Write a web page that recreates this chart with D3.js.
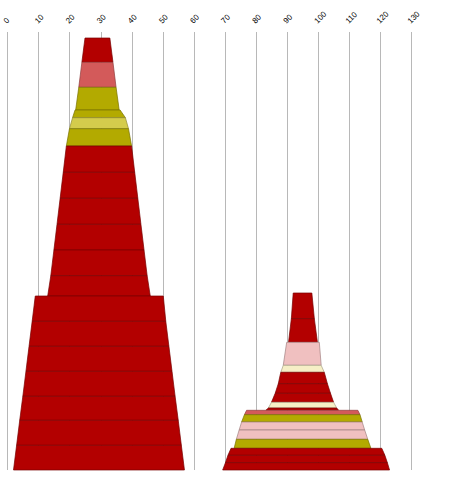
<!DOCTYPE html>
<html><head><meta charset="utf-8">
<script src="https://cdn.jsdelivr.net/npm/d3@7"></script>
<style>body{margin:0;background:#fff}svg{display:block}</style>
</head><body>
<svg id="c" width="452" height="477"></svg>
<script>
// tick labels along the top axis
const tickValues = [0,10,20,30,40,50,60,70,80,90,100,110,120,130];

// fill kinds
const palette = {
  red:   "#b30000",
  rose:  "#d35a5a",
  olive: "#b3aa00",
  lime:  "#d4cc4c",
  pink:  "#f0c0c0",
  cream: "#f6efc6"
};

// column A layers: depth top, depth bottom, [left,right] at top, [left,right] at bottom, kind
const columnA = [
  [8,     32.3,  [25,33],   [24,34],   "red"],
  [32.3,  57.3,  [24,34],   [23,35],   "rose"],
  [57.3,  80,    [23,35],   [22,36],   "olive"],
  [80,    87.7,  [21.8,36.3],[21,38],  "olive"],
  [87.7,  98.7,  [21,38],   [20,39],   "lime"],
  [98.7,  116,   [20,39],   [19,40],   "olive"],
  [116,   142.3, [19,40],   [18,41],   "red"],
  [142.3, 168.3, [18,41],   [17,42],   "red"],
  [168.3, 194.3, [17,42],   [16,43],   "red"],
  [194.3, 220,   [16,43],   [15,44],   "red"],
  [220,   245.7, [15,44],   [14,45],   "red"],
  [245.7, 266,   [14,45],   [13,46],   "red"],
  [266,   291.3, [9,50.2],  [8,51],    "red"],
  [291.3, 316.3, [8,51],    [7,52],    "red"],
  [316.3, 341.3, [7,52],    [6,53],    "red"],
  [341.3, 366.3, [6,53],    [5,54],    "red"],
  [366.3, 390.3, [5,54],    [4,55],    "red"],
  [390.3, 415.3, [4,55],    [3,56],    "red"],
  [415.3, 440,   [3,56],    [2,57],    "red"]
];

// column B layers
const columnB = [
  [263,   288.7, [92,98],     [91.4,98.8],  "red"],
  [288.7, 312.3, [91.4,98.8], [90.5,99.8],  "red"],
  [312.3, 335.3, [89.9,100.4],[88.8,101],   "pink"],
  [335.3, 342.3, [88.8,101],  [88,102],     "cream"],
  [342.3, 353.7, [88,102],    [87.2,103],   "red"],
  [353.7, 363.3, [87.2,103],  [86.2,104],   "red"],
  [363.3, 372.3, [86.2,104],  [85,105],     "red"],
  [372.3, 378,   [85,105],    [84,106],     "cream"],
  [378,   380.3, [84,106],    [83.2,106.6], "red"],
  [380.3, 384.7, [77,112.8],  [76.3,113.5], "rose"],
  [384.7, 392,   [76.3,113.5],[75.4,114.2], "olive"],
  [392,   400,   [75.4,114.2],[74.6,115],   "pink"],
  [400,   409.3, [74.6,115],  [73.7,116],   "pink"],
  [409.3, 418.3, [73.7,116],  [73,117],     "olive"],
  [418.3, 425.3, [72,120.5],  [71,121.5],   "red"],
  [425.3, 432.7, [71,121.5],  [70.2,122.3], "red"],
  [432.7, 440,   [70.2,122.3],[69.3,123],   "red"]
];

const svg = d3.select("#c");
const x = d3.scaleLinear().domain([0,130]).range([7.3,411.3]);
const y = d3.scaleLinear().domain([0,440]).range([30,470]);

// grid + labels
const axisTopY = y(2);
const axis = d3.axisTop(x)
  .tickValues(tickValues)
  .tickSize(-(y(440) - axisTopY))
  .tickFormat(d3.format("d"));

const ag = svg.append("g")
  .attr("transform", `translate(0,${axisTopY})`)
  .call(axis);
ag.select(".domain").remove();
ag.selectAll(".tick line")
  .attr("stroke", "#b8b8b8")
  .attr("stroke-width", 1)
  .attr("shape-rendering", "crispEdges");
ag.selectAll(".tick text")
  .attr("x", 0).attr("y", 0).attr("dy", 0)
  .attr("text-anchor", "start")
  .attr("transform", "translate(-1,-8) rotate(-45)")
  .attr("fill", "#000")
  .style("font-family", "'Liberation Sans', Arial, sans-serif")
  .style("font-size", "8px");

const line = d3.line();
function layerPath(d) {
  const [t, b, tp, bt] = d;
  return line([
    [x(tp[0]), y(t)], [x(tp[1]), y(t)],
    [x(bt[1]), y(b)], [x(bt[0]), y(b)]
  ]) + "Z";
}

[columnA, columnB].forEach(col => {
  svg.append("g").selectAll("path")
    .data(col)
    .join("path")
    .attr("d", layerPath)
    .attr("fill", d => palette[d[4]])
    .attr("stroke", d => d3.color(palette[d[4]]).darker(1.1))
    .attr("stroke-width", 0.7)
    .attr("stroke-linejoin", "round");
});
</script>
</body></html>
